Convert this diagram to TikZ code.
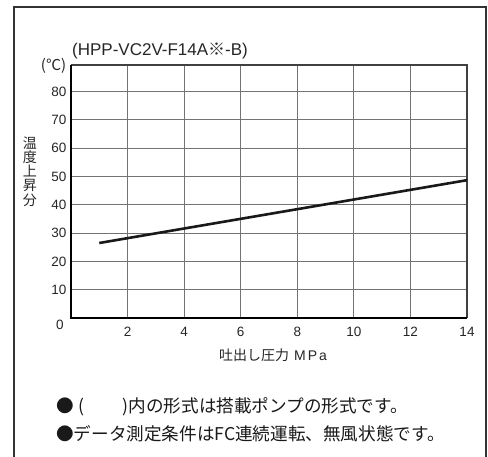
\documentclass[tikz,border=0pt]{standalone}
\usepackage{fontspec}
\setmainfont{Liberation Sans}
\newfontfamily\jp{Noto Sans CJK JP}
\begin{document}
\begin{tikzpicture}[x=1pt,y=-1pt,
  frame/.style={draw=black!80, line width=1.1pt},
  gridline/.style={draw=black!55, line width=0.9pt},
  plotedge/.style={draw=black!75, line width=1.8pt},
  axisline/.style={draw=black, line width=2.4pt},
  dataline/.style={draw=black!90, line width=2.6pt},
  ticklab/.style={inner sep=0pt, font=\fontsize{13.5}{15}\selectfont, text=black!85},
  jptext/.style={inner sep=0pt, font=\jp\fontsize{17.6}{19}\selectfont, text=black!90}]
\useasboundingbox (0,0) rectangle (488,457);
\fill[white] (0,0) rectangle (488,457);
% outer frame (open at the bottom)
\draw[frame] (14,458) -- (14,7) -- (486,7) -- (486,458);
% title
\node[inner sep=0pt, anchor=west, font=\fontsize{17}{19}\selectfont, text=black!85] (title) at (72,51) {(HPP-VC2V-F14A{\jp ※}-B)};
% plot
\begin{scope}[shift={(71,318)}, x=28.286pt, y=2.83pt]
  \foreach \gx in {2,4,...,12} \draw[gridline] (\gx,0) -- (\gx,89.4);
  \foreach \gy in {10,20,...,80} \draw[gridline] (0,\gy) -- (14,\gy);
  \draw[plotedge] (0,89.4) -- (14,89.4) -- (14,0);
  \draw[axisline] (0,89.4) -- (0,0) -- (14,0);
  \coordinate (p1) at (1,26.5);
  \coordinate (p2) at (14,48.7);
  \draw[dataline] (p1) -- (p2);
  \foreach \gy in {10,20,...,80}
    \node[ticklab, anchor=east, xshift=-4.5pt] (yl\gy) at (0,\gy) {\gy};
  \foreach \gx in {2,4,...,14}
    \node[ticklab, yshift=-14pt] (xl\gx) at (\gx,0) {\gx};
\end{scope}
\node[ticklab] (y0) at (60,325) {0};
\node[inner sep=0pt, font=\jp\fontsize{15}{17}\selectfont, text=black!85] (unit) at (53.5,66) {(℃)};
\node[inner sep=0pt, align=center, font=\jp\fontsize{14}{14.3}\selectfont, text=black!85] (ylab) at (30,171.5) {温\\度\\上\\昇\\分};
\node[inner sep=0pt, anchor=west, font=\jp\fontsize{14}{16}\selectfont, text=black!85] (xlab) at (219,355) {吐出し圧力\hspace{5pt}{\rmfamily\fontsize{14}{16}\selectfont M\hspace{2pt}P\hspace{2pt}a}};
% notes
\node[jptext, anchor=west] (note1) at (56,407) {●\hspace{5pt}(\hspace{38pt})内の形式は搭載ポンプの形式です。};
\node[jptext, anchor=west] (note2) at (56,434) {●データ測定条件はFC連続運転、無風状態です。};
\end{tikzpicture}
\end{document}
